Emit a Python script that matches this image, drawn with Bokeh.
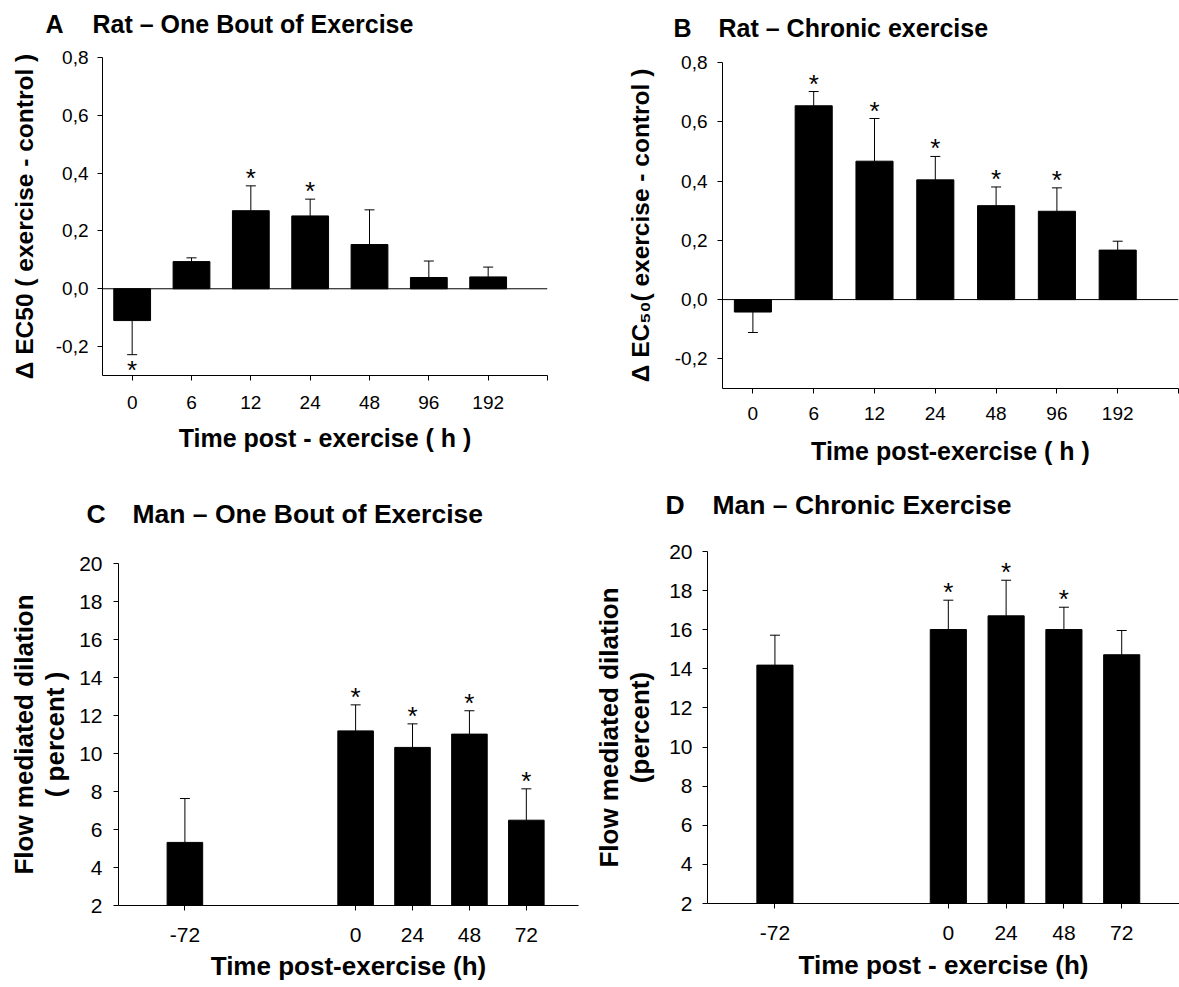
from bokeh.plotting import figure
from bokeh.layouts import column, row
from bokeh.models import (FixedTicker, CustomJSTickFormatter, Span, Whisker,
                          TeeHead, ColumnDataSource, Range1d)
from bokeh.embed import file_html
from bokeh.resources import INLINE
from bokeh.core.properties import value

FONT = "Liberation Sans"

# ---------------- data ----------------
# A: Rat - one bout of exercise (delta EC50)
times_A = ["0", "6", "12", "24", "48", "96", "192"]
mean_A = [-0.110, 0.094, 0.270, 0.252, 0.153, 0.039, 0.041]
sem_A = [0.118, 0.013, 0.086, 0.058, 0.120, 0.057, 0.034]
sig_A = [1, 0, 1, 1, 0, 0, 0]

# B: Rat - chronic exercise (delta EC50)
times_B = ["0", "6", "12", "24", "48", "96", "192"]
mean_B = [-0.042, 0.654, 0.467, 0.404, 0.317, 0.298, 0.167]
sem_B = [0.069, 0.048, 0.144, 0.079, 0.063, 0.079, 0.030]
sig_B = [0, 1, 1, 1, 1, 1, 0]

# C: Man - one bout of exercise (FMD, percent)
times_C = [-72, 0, 24, 48, 72]
mean_C = [5.32, 11.19, 10.32, 11.02, 6.49]
sem_C = [2.31, 1.37, 1.24, 1.23, 1.65]
sig_C = [0, 1, 1, 1, 1]

# D: Man - chronic exercise (FMD, percent)
times_D = [-72, 0, 24, 48, 72]
mean_D = [14.19, 16.01, 16.71, 16.01, 14.72]
sem_D = [1.53, 1.50, 1.82, 1.14, 1.24]
sig_D = [0, 1, 1, 1, 0]

rat_yticks = [-0.2, 0.0, 0.2, 0.4, 0.6, 0.8]
man_yticks = [2, 4, 6, 8, 10, 12, 14, 16, 18, 20]

titles = [("A", "Rat – One Bout of Exercise"),
          ("B", "Rat – Chronic exercise"),
          ("C", "Man – One Bout of Exercise"),
          ("D", "Man – Chronic Exercise")]


def bare(p):
    p.xgrid.visible = False
    p.ygrid.visible = False
    p.outline_line_color = None
    p.background_fill_color = "white"
    p.border_fill_color = "white"


common = dict(output_backend="svg", toolbar_location=None, frame_align=False)


def title_strip(width, height, letter, text, x_letter, x_text, y, size):
    # a small strip that only carries the panel heading (pixel coordinates)
    t = figure(width=width, height=height, x_range=Range1d(0, width),
               y_range=Range1d(height, 0), min_border=0, **common)
    bare(t)
    t.axis.visible = False
    src = ColumnDataSource(dict(x=[x_letter, x_text], y=[y, y], t=[letter, text]))
    t.text(x="x", y="y", text="t", source=src, text_align="left",
           text_baseline="middle", text_font=value(FONT), text_font_size=size,
           text_font_style="bold", text_color="black")
    return t


def style_axes(p, tick_size, xlabel_size, ylabel_size, x_standoff, y_standoff,
               x_lab_standoff, y_lab_standoff):
    bare(p)
    for ax in (p.xaxis[0], p.yaxis[0]):
        ax.axis_line_color = "black"
        ax.axis_line_width = 1
        ax.major_tick_line_color = "black"
        ax.major_tick_in = 0
        ax.major_tick_out = 5
        ax.minor_tick_in = 0
        ax.minor_tick_out = 0
        ax.major_label_text_font = FONT
        ax.major_label_text_font_size = tick_size
        ax.major_label_text_color = "black"
        ax.axis_label_text_font = FONT
        ax.axis_label_text_font_style = "bold"
        ax.axis_label_text_color = "black"
        ax.axis_label_text_line_height = 1.05
    p.xaxis[0].axis_label_text_font_size = xlabel_size
    p.yaxis[0].axis_label_text_font_size = ylabel_size
    p.xaxis[0].major_label_standoff = x_standoff
    p.yaxis[0].major_label_standoff = y_standoff
    p.xaxis[0].axis_label_standoff = x_lab_standoff
    p.yaxis[0].axis_label_standoff = y_lab_standoff


def add_bars(p, xs, means, sems, sigs, width, bottom, star_size):
    ends = [m + s if m >= 0 else m - s for m, s in zip(means, sems)]
    src = ColumnDataSource(dict(x=xs, top=means, end=ends))
    p.vbar(x="x", top="top", bottom=bottom, width=width, source=src,
           fill_color="black", line_color="black")
    p.add_layout(Whisker(source=src, base="x", lower="top", upper="end",
                         lower_head=None,
                         upper_head=TeeHead(size=10, line_color="black", line_width=1),
                         line_color="black", line_width=1))
    up = dict(x=[], y=[], t=[])
    dn = dict(x=[], y=[], t=[])
    for x, m, e, s in zip(xs, means, ends, sigs):
        if s:
            d = up if m >= 0 else dn
            d["x"].append(x)
            d["y"].append(e)
            d["t"].append("*")
    p.text(x="x", y="y", text="t", source=ColumnDataSource(up),
           text_align="center", text_baseline="alphabetic", y_offset=-8,
           text_font=value(FONT), text_font_size=star_size, text_color="black")
    p.text(x="x", y="y", text="t", source=ColumnDataSource(dn),
           text_align="center", text_baseline="alphabetic", y_offset=15,
           text_font=value(FONT), text_font_size=star_size, text_color="black")


comma_fmt = CustomJSTickFormatter(code="return tick.toFixed(1).replace('.', ',');")
int_fmt = CustomJSTickFormatter(code="return tick.toFixed(0);")

# ---------------- headings ----------------
tA = title_strip(590, 45, titles[0][0], titles[0][1], 45, 92, 23, "25px")
tB = title_strip(589, 45, titles[1][0], titles[1][1], 83, 128, 27, "25px")
tC = title_strip(590, 50, titles[2][0], titles[2][1], 86, 132, 33, "26.5px")
tD = title_strip(589, 50, titles[3][0], titles[3][1], 75, 122, 24.5, "26.5px")

# ---------------- panel A ----------------
pA = figure(width=590, height=435, x_range=Range1d(-0.5, 7.0),
            y_range=Range1d(-0.3, 0.8), min_border_left=102, min_border_right=43,
            min_border_top=12, min_border_bottom=105, **common)
xA = list(range(len(times_A)))
add_bars(pA, xA, mean_A, sem_A, sig_A, 0.62, 0, "26px")
pA.add_layout(Span(location=0, dimension="width", line_color="black", line_width=1))
pA.xaxis.ticker = FixedTicker(ticks=xA + [len(xA)])
pA.xaxis.major_label_overrides = {**{i: t for i, t in zip(xA, times_A)}, len(xA): ""}
pA.yaxis.ticker = FixedTicker(ticks=rat_yticks)
pA.yaxis.formatter = comma_fmt
pA.xaxis.axis_label = "Time post - exercise ( h )"
pA.yaxis.axis_label = "Δ EC50 ( exercise - control )"
style_axes(pA, "19px", "25px", "24.5px", 15, 9, 12, 15)

# ---------------- panel B ----------------
pB = figure(width=589, height=435, x_range=Range1d(-0.5, 7.0),
            y_range=Range1d(-0.3, 0.8), min_border_left=132, min_border_right=1,
            min_border_top=17, min_border_bottom=92, **common)
xB = list(range(len(times_B)))
add_bars(pB, xB, mean_B, sem_B, sig_B, 0.61, 0, "26px")
pB.add_layout(Span(location=0, dimension="width", line_color="black", line_width=1))
pB.xaxis.ticker = FixedTicker(ticks=xB + [len(xB)])
pB.xaxis.major_label_overrides = {**{i: t for i, t in zip(xB, times_B)}, len(xB): ""}
pB.yaxis.ticker = FixedTicker(ticks=rat_yticks)
pB.yaxis.formatter = comma_fmt
pB.xaxis.axis_label = "Time post-exercise ( h )"
pB.yaxis.axis_label = "Δ EC₅₀( exercise - control )"
style_axes(pB, "19px", "25px", "24.5px", 13, 10, 14, 18)

# ---------------- panel C ----------------
pC = figure(width=590, height=457, x_range=Range1d(-100, 94),
            y_range=Range1d(2, 20), min_border_left=118, min_border_right=12,
            min_border_top=33, min_border_bottom=82, **common)
add_bars(pC, times_C, mean_C, sem_C, sig_C, 15, 2, "26px")
pC.xaxis.ticker = FixedTicker(ticks=times_C)
pC.xaxis.formatter = int_fmt
pC.yaxis.ticker = FixedTicker(ticks=man_yticks)
pC.xaxis.axis_label = "Time post-exercise (h)"
pC.yaxis.axis_label = "Flow mediated dilation\n( percent )"
style_axes(pC, "21px", "26px", "26px", 17, 11, 6, 6)

# ---------------- panel D ----------------
pD = figure(width=589, height=457, x_range=Range1d(-100, 96),
            y_range=Range1d(2, 20), min_border_left=112, min_border_right=0,
            min_border_top=21, min_border_bottom=84, **common)
add_bars(pD, times_D, mean_D, sem_D, sig_D, 15, 2, "26px")
pD.xaxis.ticker = FixedTicker(ticks=times_D)
pD.xaxis.formatter = int_fmt
pD.yaxis.ticker = FixedTicker(ticks=man_yticks)
pD.xaxis.axis_label = "Time post - exercise (h)"
pD.yaxis.axis_label = "Flow mediated dilation\n(percent)"
style_axes(pD, "21px", "26px", "26px", 17, 10, 7, 11)

p = column(row(tA, tB), row(pA, pB), row(tC, tD), row(pC, pD))
open("out.html", "w").write(file_html(p, INLINE))
